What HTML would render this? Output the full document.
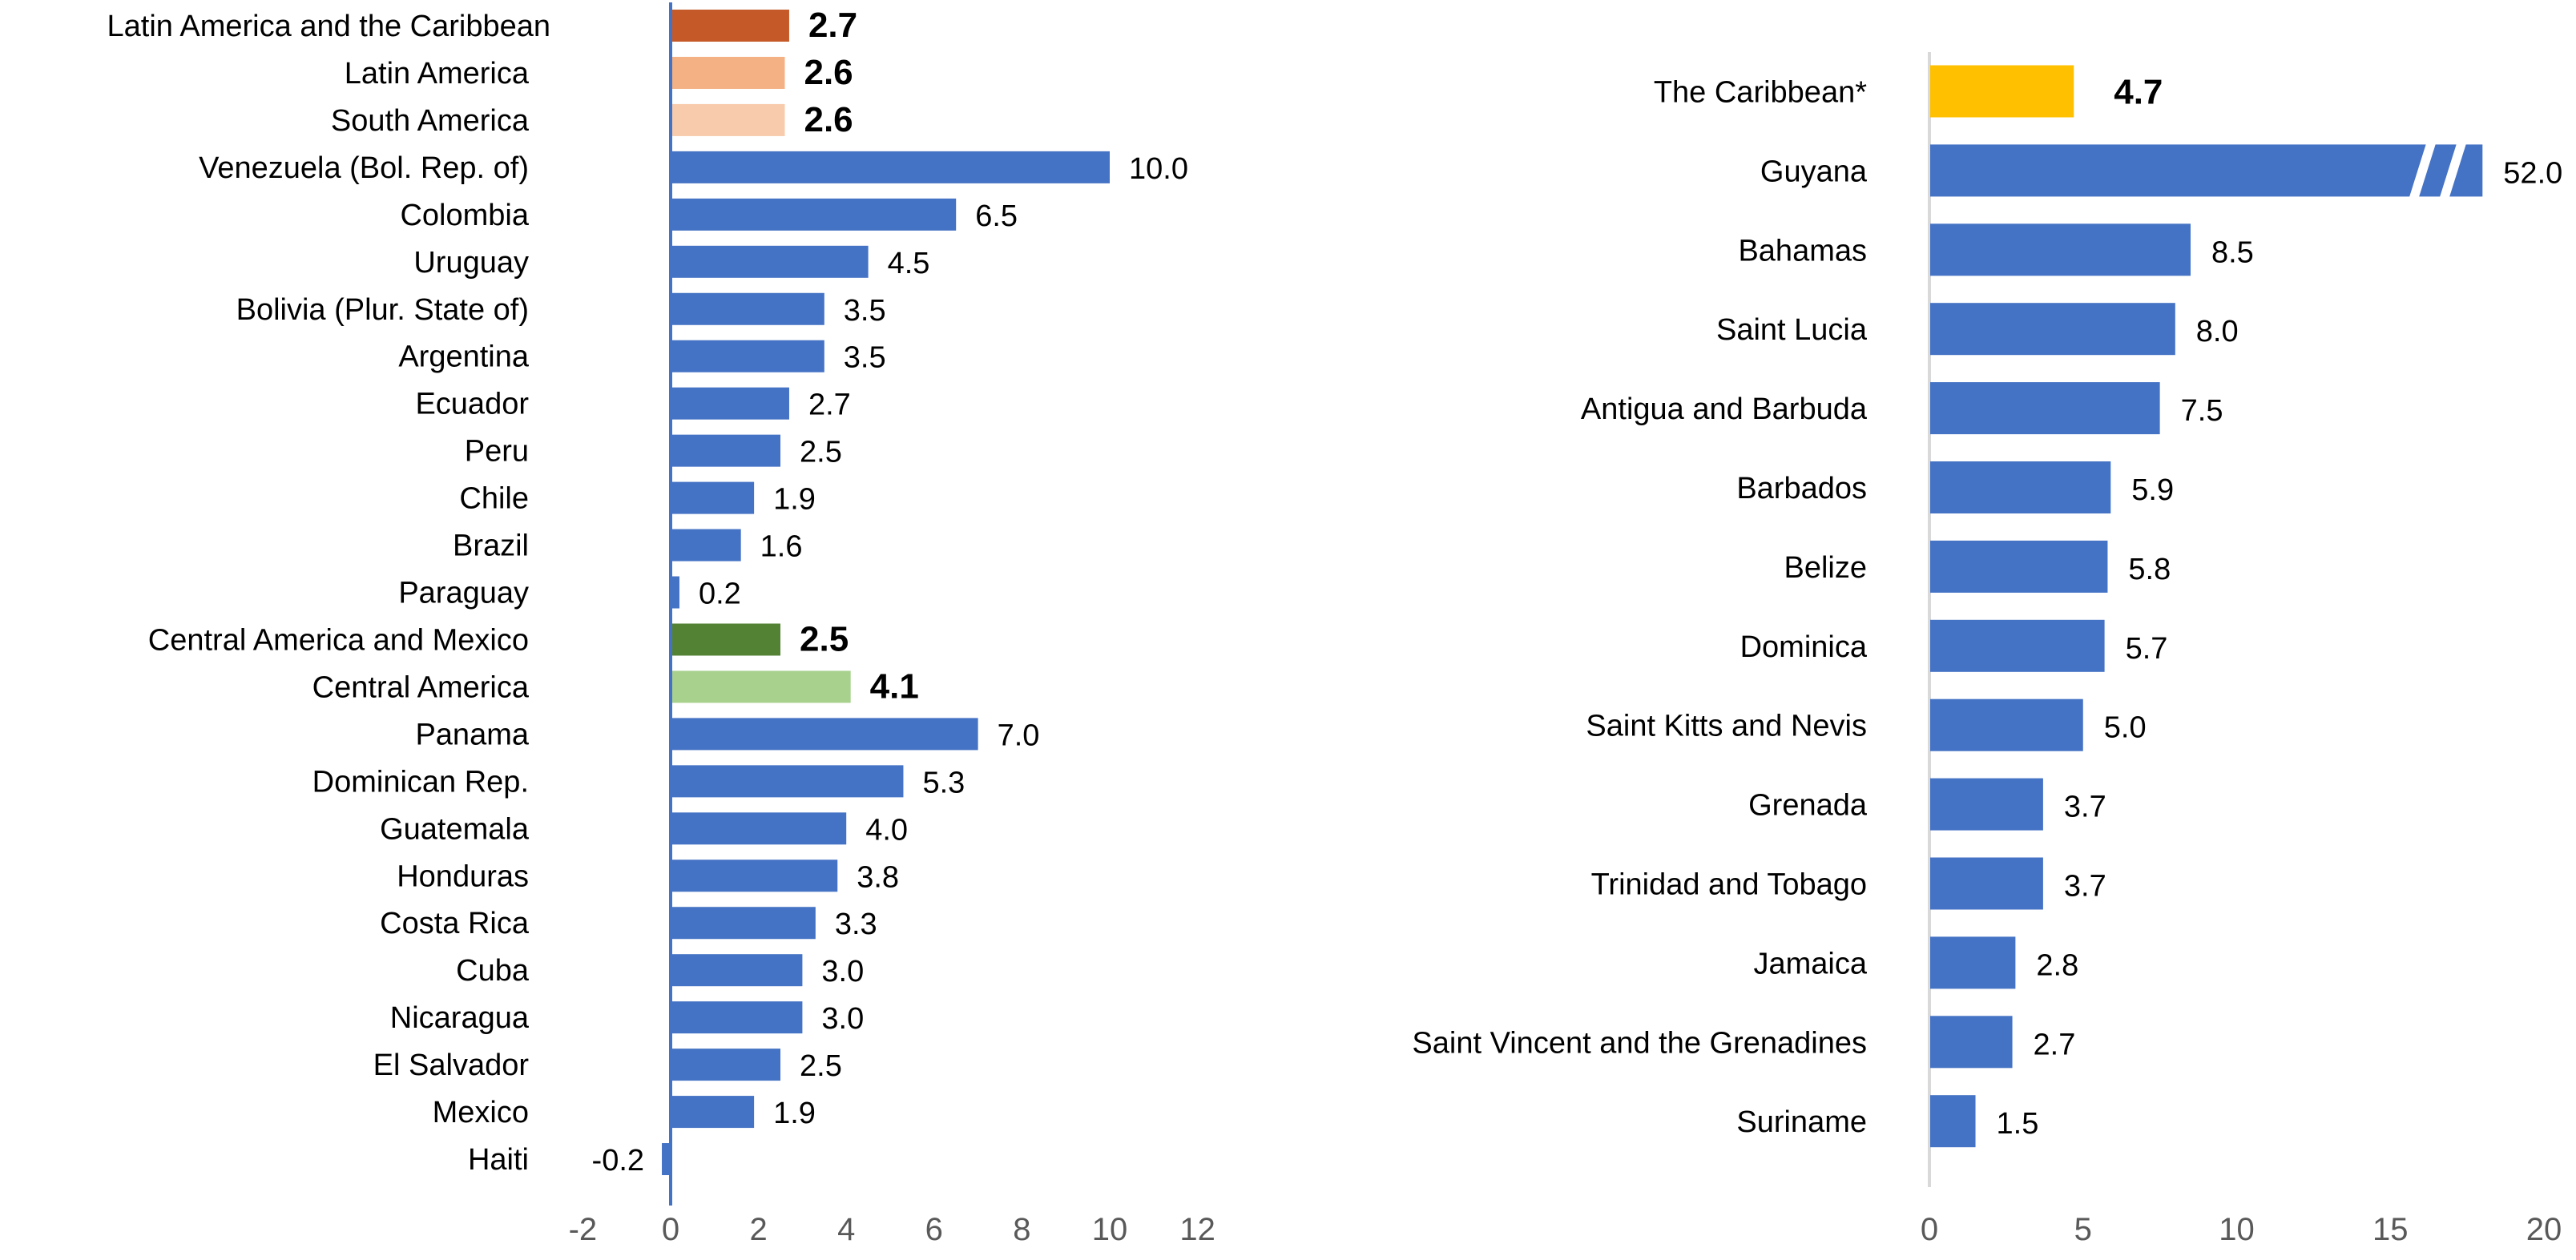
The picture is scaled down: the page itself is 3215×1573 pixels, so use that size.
<!DOCTYPE html>
<html><head><meta charset="utf-8"><style>
body{margin:0;background:#fff}
svg{display:block;font-family:"Liberation Sans Narrow","Liberation Sans",sans-serif}
</style></head><body>
<svg id="c" width="3215" height="1573" viewBox="0 0 3215 1573"></svg>
<script>
const leftCats=["Latin America and the Caribbean","Latin America","South America","Venezuela (Bol. Rep. of)","Colombia","Uruguay","Bolivia (Plur. State of)","Argentina","Ecuador","Peru","Chile","Brazil","Paraguay","Central America and Mexico","Central America","Panama","Dominican Rep.","Guatemala","Honduras","Costa Rica","Cuba","Nicaragua","El Salvador","Mexico","Haiti"];
const leftVals=[2.7,2.6,2.6,10.0,6.5,4.5,3.5,3.5,2.7,2.5,1.9,1.6,0.2,2.5,4.1,7.0,5.3,4.0,3.8,3.3,3.0,3.0,2.5,1.9,-0.2];
const leftColors=["#C55A28","#F4B183","#F8CBAD","","","","","","","","","","","#548235","#A9D18E"];
const leftTicks=[-2,0,2,4,6,8,10,12];
const rightCats=["The Caribbean*","Guyana","Bahamas","Saint Lucia","Antigua and Barbuda","Barbados","Belize","Dominica","Saint Kitts and Nevis","Grenada","Trinidad and Tobago","Jamaica","Saint Vincent and the Grenadines","Suriname"];
const rightVals=[4.7,52.0,8.5,8.0,7.5,5.9,5.8,5.7,5.0,3.7,3.7,2.8,2.7,1.5];
const rightTicks=[0,5,10,15,20];
const rightCap=18;

const NS="http://www.w3.org/2000/svg";
const svg=document.getElementById('c');
function mk(t,a,p){const e=document.createElementNS(NS,t);for(const k in a)e.setAttribute(k,a[k]);(p||svg).appendChild(e);return e;}
const BLUE="#4472C4";

// left chart
const lx=v=>837+v*54.8, ly=i=>32+i*58.96;
const gL=mk('g',{});


leftCats.forEach((c,i)=>{
  const v=leftVals[i], col=leftColors[i]||BLUE, agg=!!leftColors[i];
  const x0=Math.min(lx(0),lx(v)), w=Math.abs(lx(v)-lx(0));
  const r=mk('rect',{x:x0,y:ly(i)-20,width:w,height:40,fill:col},gL);
  
  
  const t=mk('text',{x:i===0?687:660,y:ly(i)+13,'font-size':38,'text-anchor':'end',fill:'#000'},gL);
  t.textContent=c;
  
  
  const vl=mk('text',{x:v<0?lx(v)-22:lx(v)+24,y:ly(i)+14,'font-size':agg?44:38,'font-weight':agg?'bold':'normal','text-anchor':v<0?'end':'start',fill:'#000'},gL);
  vl.textContent=v.toFixed(1);
  
  
});
const axL=mk('line',{x1:lx(0),x2:lx(0),y1:3,y2:1505,stroke:BLUE,'stroke-width':4},gL);


leftTicks.forEach(v=>{
  const t=mk('text',{x:lx(v),y:1548,'font-size':40,'text-anchor':'middle',fill:'#595959'},gL);
  t.textContent=v;
  
  
});

// right chart
const rx=v=>2408+v*38.35, ry=i=>114.5+i*98.9;
const gR=mk('g',{});


const axR=mk('line',{x1:rx(0),x2:rx(0),y1:65,y2:1482,stroke:'#D9D9D9','stroke-width':4},gR);


rightCats.forEach((c,i)=>{
  const v=rightVals[i], shown=Math.min(v,rightCap), agg=i===0;
  const r=mk('rect',{x:rx(0)+1,y:ry(i)-33,width:rx(shown)-rx(0)-1,height:65,fill:agg?'#FFC000':BLUE},gR);
  
  
  if(v>rightCap){
    const bx=rx(15.6);
    [0,38].forEach(o=>{
      const p=mk('polygon',{points:`${bx+o+22},${ry(i)-35} ${bx+o+34},${ry(i)-35} ${bx+o+12},${ry(i)+35} ${bx+o},${ry(i)+35}`,fill:'#fff'},gR);
      
      
    });
  }
  const t=mk('text',{x:2330,y:ry(i)+13,'font-size':38,'text-anchor':'end',fill:'#000'},gR);
  t.textContent=c;
  
  
  const vl=mk('text',{x:rx(shown)+(agg?50:26),y:ry(i)+15,'font-size':agg?44:38,'font-weight':agg?'bold':'normal',fill:'#000'},gR);
  vl.textContent=v.toFixed(1);
  
  
});
rightTicks.forEach(v=>{
  const t=mk('text',{x:rx(v),y:1548,'font-size':40,'text-anchor':'middle',fill:'#595959'},gR);
  t.textContent=v;
  
  
});
</script>
</body></html>
